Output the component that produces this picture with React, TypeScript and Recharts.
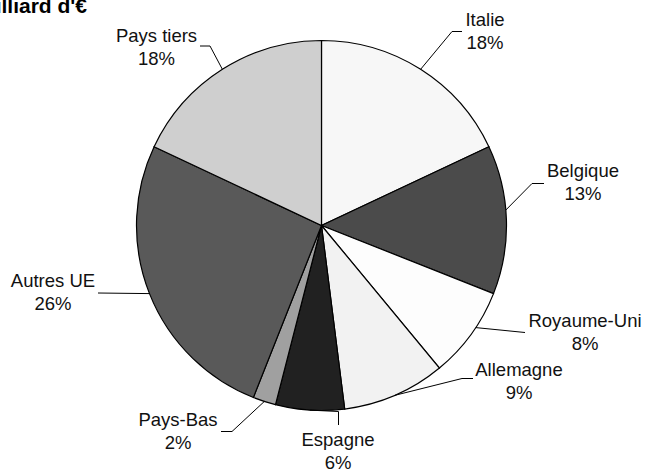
import { PieChart, Pie, Cell } from 'recharts';

// répartition par destination, en % du total
const countries = ['Italie', 'Belgique', 'Royaume-Uni', 'Allemagne', 'Espagne', 'Pays-Bas', 'Autres UE', 'Pays tiers'];
const shares = [18, 13, 8, 9, 6, 2, 26, 18];
const sliceColors = ['#f7f7f7', '#4b4b4b', '#fdfdfd', '#f2f2f2', '#212121', '#a0a0a0', '#595959', '#cfcfcf'];

// where each label sits: text centre, first baseline, leader elbow and end,
// plus a small shift (deg) of the leader's start along the rim
const labelLayout = [
  { tx: 485, ty: 26, elbow: [452, 31.5], end: [462, 31.5], shift: 0 },
  { tx: 583, ty: 177, elbow: [532, 183.5], end: [544, 183.5], shift: 3 },
  { tx: 585, ty: 327, elbow: [525, 332.5], end: [525, 332.5], shift: 2.5 },
  { tx: 519, ty: 376, elbow: [462, 378.5], end: [473, 378.5], shift: 0 },
  { tx: 338, ty: 446, elbow: [338.5, 411.5], end: [338.5, 425], shift: 0 },
  { tx: 178, ty: 426, elbow: [232, 431.5], end: [221, 431.5], shift: 0 },
  { tx: 53, ty: 287, elbow: [98, 293], end: [98, 293], shift: 0 },
  { tx: 156.5, ty: 41.5, elbow: [210, 46], end: [200, 46], shift: 0 },
];

const data = countries.map((name, i) => ({ name, value: shares[i] }));
const RADIAN = Math.PI / 180;

const renderLabel = (props: any) => {
  const { cx, cy, midAngle, outerRadius, index, name, value } = props;
  const lay = labelLayout[index];
  const a = (midAngle + lay.shift) * RADIAN;
  const sx = cx + outerRadius * Math.cos(-a);
  const sy = cy + outerRadius * Math.sin(-a);
  return (
    <g>
      <polyline
        points={`${sx},${sy} ${lay.elbow[0]},${lay.elbow[1]} ${lay.end[0]},${lay.end[1]}`}
        fill="none"
        stroke="#000"
        strokeWidth={1}
      />
      <text x={lay.tx} y={lay.ty} textAnchor="middle" fontSize={18.5} fill="#111">
        {name}
      </text>
      <text x={lay.tx} y={lay.ty + 23} textAnchor="middle" fontSize={18.5} fill="#111">
        {`${value}%`}
      </text>
    </g>
  );
};

export default function App() {
  return (
    <div style={{ position: 'absolute', left: 0, top: 0, width: 646, height: 474, background: '#fff', fontFamily: 'Arial, "Liberation Sans", sans-serif' }}>
      <PieChart width={646} height={474} margin={{ top: 0, right: 0, bottom: 0, left: 0 }}>
        <text x={87} y={13} textAnchor="end" fontSize={21} fontWeight="bold" fill="#000">
          En milliard d'€
        </text>
        <Pie
          data={data}
          dataKey="value"
          nameKey="name"
          cx={321.5}
          cy={225.5}
          outerRadius={185}
          startAngle={90}
          endAngle={-270}
          stroke="#000"
          strokeWidth={1.2}
          label={renderLabel}
          labelLine={false}
          isAnimationActive={false}
        >
          {data.map((d, i) => (
            <Cell key={d.name} fill={sliceColors[i]} />
          ))}
        </Pie>
      </PieChart>
    </div>
  );
}
